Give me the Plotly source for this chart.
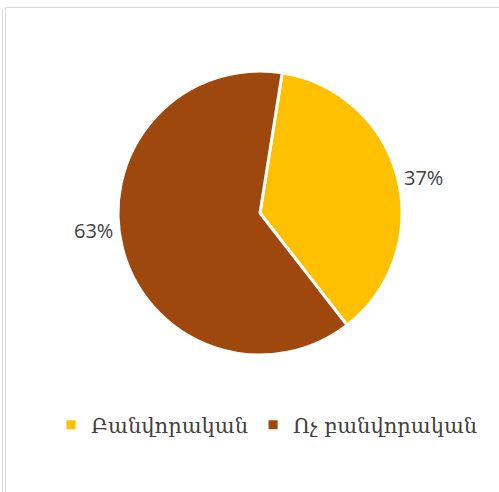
import plotly.graph_objects as go

categories = ["Բանվորական", "Ոչ բանվորական"]
values = [37, 63]
colors = ["#FFC000", "#9E480E"]

W, H = 499, 492

total = sum(values)
pct_labels = [f"{round(v / total * 100)}%" for v in values]
# label anchor positions (pixels) for each slice's data label
label_pos = [(423, 177), (93, 230)]

fig = go.Figure()
fig.add_trace(go.Pie(
    labels=categories,
    values=values,
    sort=False,
    direction="clockwise",
    rotation=9,
    marker=dict(colors=colors, line=dict(color="white", width=3)),
    textinfo="none",
    domain=dict(x=[118 / W, 402 / W], y=[1 - 355 / H, 1 - 71 / H]),
    showlegend=True,
    hoverinfo="label+percent",
))

for txt, (px, py) in zip(pct_labels, label_pos):
    fig.add_annotation(
        text=txt, xref="paper", yref="paper",
        x=px / W, y=1 - py / H, xanchor="center", yanchor="middle",
        showarrow=False,
        font=dict(family="Open Sans, Liberation Sans, sans-serif", size=20, color="#404040"),
    )

line_col = "#d9d9d9"
fig.add_shape(type="line", xref="paper", yref="paper",
              x0=6 / W, x1=1, y0=1 - 7.5 / H, y1=1 - 7.5 / H,
              line=dict(color=line_col, width=1))
fig.add_shape(type="line", xref="paper", yref="paper",
              x0=2.5 / W, x1=2.5 / W, y0=0, y1=1 - 9 / H,
              line=dict(color=line_col, width=1))
fig.add_shape(type="line", xref="paper", yref="paper",
              x0=5.5 / W, x1=5.5 / W, y0=0, y1=1 - 7.5 / H,
              line=dict(color=line_col, width=1))

fig.update_layout(
    width=W, height=H,
    margin=dict(l=0, r=0, t=0, b=0),
    paper_bgcolor="white",
    plot_bgcolor="white",
    showlegend=True,
    legend=dict(
        orientation="h",
        x=51 / W, xanchor="left",
        y=1 - 425 / H, yanchor="middle",
        font=dict(family="DejaVu Serif, DejaVu Sans, serif", size=21, color="#404040"),
        itemclick=False,
    ),
)

fig.write_html("out.html", config={"displayModeBar": False},
               post_script="document.body.style.margin='0';document.body.style.overflow='hidden';")
